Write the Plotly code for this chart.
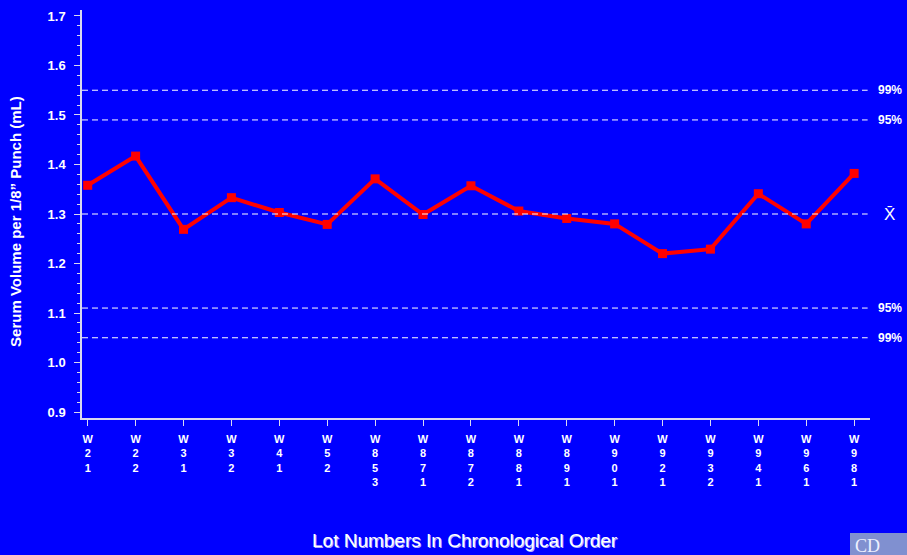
import plotly.graph_objects as go

# lot numbers (stacked vertically on the axis) and measured serum volumes
lots = ["W21", "W22", "W31", "W32", "W41", "W52", "W853", "W871", "W872",
        "W881", "W891", "W901", "W921", "W932", "W941", "W961", "W981"]
volume = [1.358, 1.417, 1.269, 1.333, 1.303, 1.279, 1.371, 1.299, 1.357,
          1.306, 1.291, 1.280, 1.220, 1.229, 1.341, 1.280, 1.382]

# control limits
mean_val = 1.30
limits = [1.55, 1.49, 1.11, 1.05]
limit_labels = ["99%", "95%", "95%", "99%"]

y_ticks = [0.9, 1.0, 1.1, 1.2, 1.3, 1.4, 1.5, 1.6, 1.7]

BG = "#0000FF"
FG = "#ffffff"
AXIS = "#d8d8f0"
FONT = "Liberation Sans, Arial, sans-serif"

xs = list(range(len(lots)))
ticktext = ["<br>".join(list(s)) for s in lots]

fig = go.Figure()
fig.add_trace(go.Scatter(
    x=xs, y=volume,
    mode="lines+markers",
    line=dict(color="#ff0000", width=4),
    marker=dict(symbol="square", size=9, color="#ff0000"),
    hoverinfo="skip",
    showlegend=False,
))

# dashed reference lines
for v in [mean_val] + limits:
    fig.add_shape(type="line", xref="paper", yref="y",
                  x0=0, x1=0.997, y0=v, y1=v,
                  line=dict(color=FG, width=1, dash="6px,4px"))

for v, lab in zip(limits, limit_labels):
    fig.add_annotation(x=(876 - 82) / 788, xref="paper", y=v, yref="y",
                       text="<b>" + lab + "</b>",
                       showarrow=False, xanchor="left", yanchor="middle",
                       font=dict(family=FONT, size=12, color=FG))
fig.add_annotation(x=(882 - 82) / 788, xref="paper", y=mean_val, yref="y", text="X\u0304",
                   showarrow=False, xanchor="left", yanchor="middle",
                   font=dict(family=FONT, size=17, color=FG))

# axis titles
fig.add_annotation(x=-0.0838, xref="paper", y=0.483, yref="paper",
                   text="<b>Serum Volume per 1/8\u201d Punch (mL)</b>", textangle=-90,
                   showarrow=False, xanchor="center", yanchor="middle",
                   font=dict(family=FONT, size=15, color=FG))
fig.add_annotation(x=0.486, xref="paper", y=-0.301, yref="paper",
                   text="Lot Numbers In Chronological Order",
                   showarrow=False, xanchor="center", yanchor="middle",
                   font=dict(family=FONT, size=19, color=FG,
                             shadow="1px 1px 0px #b0b0ff"))

# corner logo fragment
fig.add_shape(type="rect", xref="paper", yref="paper",
              x0=(850 - 82) / 788, x1=(910 - 82) / 788,
              y0=(418 - 533) / 408, y1=(418 - 558) / 408,
              fillcolor="#8090d0", line=dict(width=0), layer="above")
fig.add_annotation(x=(853 - 82) / 788, xref="paper", y=(418 - 534) / 408, yref="paper",
                   text="CD", showarrow=False, xanchor="left", yanchor="top",
                   font=dict(family="Liberation Serif, serif", size=18, color="#eef0ff"))

fig.update_layout(
    width=907, height=555,
    margin=dict(l=82, r=37, t=10, b=137),
    paper_bgcolor=BG, plot_bgcolor=BG,
    font=dict(family=FONT, color=FG, size=12),
    xaxis=dict(
        range=[-0.119, 16.331],
        tickmode="array", tickvals=xs, ticktext=["<b>" + t + "</b>" for t in ticktext],
        showgrid=False, zeroline=False,
        showline=True, linecolor=AXIS, linewidth=1.5,
        ticks="outside", ticklen=6, tickcolor=AXIS,
        tickfont=dict(family=FONT, size=11, color=FG),
        ticklabelstandoff=4,
    ),
    yaxis=dict(
        range=[0.8879, 1.7121],
        tickmode="array", tickvals=y_ticks,
        ticktext=["<b>%.1f</b>" % v for v in y_ticks],
        showgrid=False, zeroline=False,
        showline=True, linecolor=AXIS, linewidth=1.5,
        ticks="outside", ticklen=6, tickcolor=AXIS,
        minor=dict(dtick=0.02, tick0=0.9, ticks="outside", ticklen=3, tickcolor=AXIS),
        tickfont=dict(family=FONT, size=13, color=FG),
        ticklabelstandoff=6,
    ),
)

fig.write_html("out.html",
               config={"displayModeBar": False},
               post_script="document.body.style.margin='0';"
                           "document.body.style.overflow='hidden';"
                           "document.body.style.background='#0000FF';")
